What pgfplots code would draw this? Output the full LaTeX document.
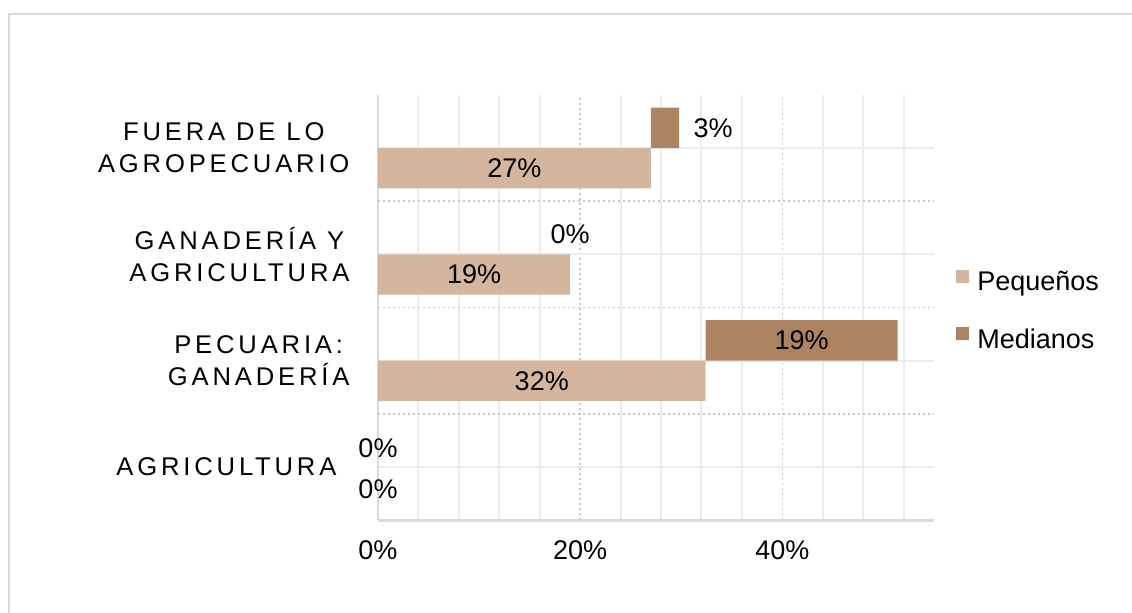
\documentclass[border=0pt]{standalone}
\usepackage{pgfplots}
\pgfplotsset{compat=1.18}
\usepackage{pgfplotstable}
\usepackage{fontspec}
\setmainfont{Liberation Sans}
\newfontfamily\catfont[LetterSpace=15]{Liberation Sans}
\definecolor{peq}{RGB}{212,181,157}
\definecolor{med}{RGB}{173,132,97}
\definecolor{gridc}{RGB}{236,236,236}
\definecolor{gridd}{RGB}{200,200,200}
\definecolor{axc}{RGB}{217,217,217}
\definecolor{framec}{RGB}{217,217,217}

% y: 0 = AGRICULTURA, 1 = PECUARIA: GANADERIA, 2 = GANADERIA Y AGRICULTURA, 3 = FUERA DE LO AGROPECUARIO
\pgfplotstableread{
y peq med
0 0 0
1 32.4 19.0
2 19.0 0
3 27.0 2.8
}\datatab

% centred data labels: x position, y position, shown value
\pgfplotstableread{
x y v
13.5 2.81 27
9.5 1.81 19
19 2.19 0
16.2 0.81 32
41.9 1.19 19
0 0.18 0
0 -0.21 0
}\labtab

% outside-end data label
\pgfplotstableread{
x y v
29.8 3.19 3
}\labout

\begin{document}
\begin{tikzpicture}
\useasboundingbox (0,0) rectangle (566pt,306pt);
\clip (0,0) rectangle (566pt,306pt);
\draw[framec, line width=1pt] (4.5pt,-10pt) rectangle (580pt,299pt);
\begin{axis}[
  at={(189pt,46pt)}, anchor=south west, scale only axis,
  width=278pt, height=212.5pt,
  xmin=0, xmax=55, ymin=-0.5, ymax=3.5,
  xbar stacked, bar width=0.38,
  axis x line*=bottom, axis y line*=left,
  x axis line style={-, draw=axc, line width=1.5pt},
  y axis line style={-, draw=axc, line width=1pt},
  xtick={0,20,40},
  minor xtick={4,8,12,16,24,28,32,36,44,48,52},
  xmajorgrids, xminorgrids,
  ytick={0,1,2,3}, minor ytick={0,1,2,3}, yminorgrids,
  extra y ticks={0.5,1.5,2.5}, extra y tick labels={},
  extra y tick style={grid=major},
  major grid style={draw=gridd, line width=0.8pt, dash pattern=on 1pt off 1.5pt},
  minor grid style={draw=gridc, line width=1pt},
  major tick length=0pt, minor tick length=0pt,
  xticklabel={\pgfmathprintnumber[assume math mode=true]{\tick}\%},
  xticklabel style={font=\fontsize{13.5}{15}\selectfont, yshift=-7pt},
  yticklabels={{AGRICULTURA\hspace*{6.5pt}}, {PECUARIA:\\GANADERÍA}, {GANADERÍA Y\\AGRICULTURA}, {FUERA DE LO\\AGROPECUARIO}},
  yticklabel style={font=\catfont\fontsize{12.8}{16}\selectfont, align=center, xshift=-10.75pt},
  legend style={at={(1,0.5)}, anchor=west, xshift=11pt, yshift=-2pt, draw=none, fill=none,
    font=\fontsize{13.5}{15}\selectfont, row sep=14.5pt, inner sep=0pt,
    nodes={inner xsep=4pt, inner ysep=1.5pt}},
  legend cell align=left,
  legend image code/.code={\fill[#1] (0pt,0pt) rectangle (6.5pt,6.5pt);},
]
\addplot[fill=peq, draw=none, bar shift=-0.19] table[x=peq, y=y] {\datatab};
\addplot[fill=med, draw=none, bar shift=0.19] table[x=med, y=y] {\datatab};
\legend{Pequeños, Medianos}
\end{axis}
\begin{axis}[
  at={(189pt,46pt)}, anchor=south west, scale only axis,
  width=278pt, height=212.5pt,
  xmin=0, xmax=55, ymin=-0.5, ymax=3.5,
  hide axis, clip=false,
]
\addplot[only marks, mark=*, mark size=0pt, mark options={draw=none, fill=none},
  point meta=explicit,
  nodes near coords={\pgfmathprintnumber[assume math mode=true]{\pgfplotspointmeta}\%},
  nodes near coords align=center,
  every node near coord/.append style={font=\fontsize{13.5}{15}\selectfont, anchor=center, text=black}]
  table[x=x, y=y, meta=v] {\labtab};
\addplot[only marks, mark=*, mark size=0pt, mark options={draw=none, fill=none},
  point meta=explicit,
  nodes near coords={\pgfmathprintnumber[assume math mode=true]{\pgfplotspointmeta}\%},
  every node near coord/.append style={font=\fontsize{13.5}{15}\selectfont, anchor=west, xshift=3.7pt, text=black}]
  table[x=x, y=y, meta=v] {\labout};
\end{axis}
\end{tikzpicture}
\end{document}
